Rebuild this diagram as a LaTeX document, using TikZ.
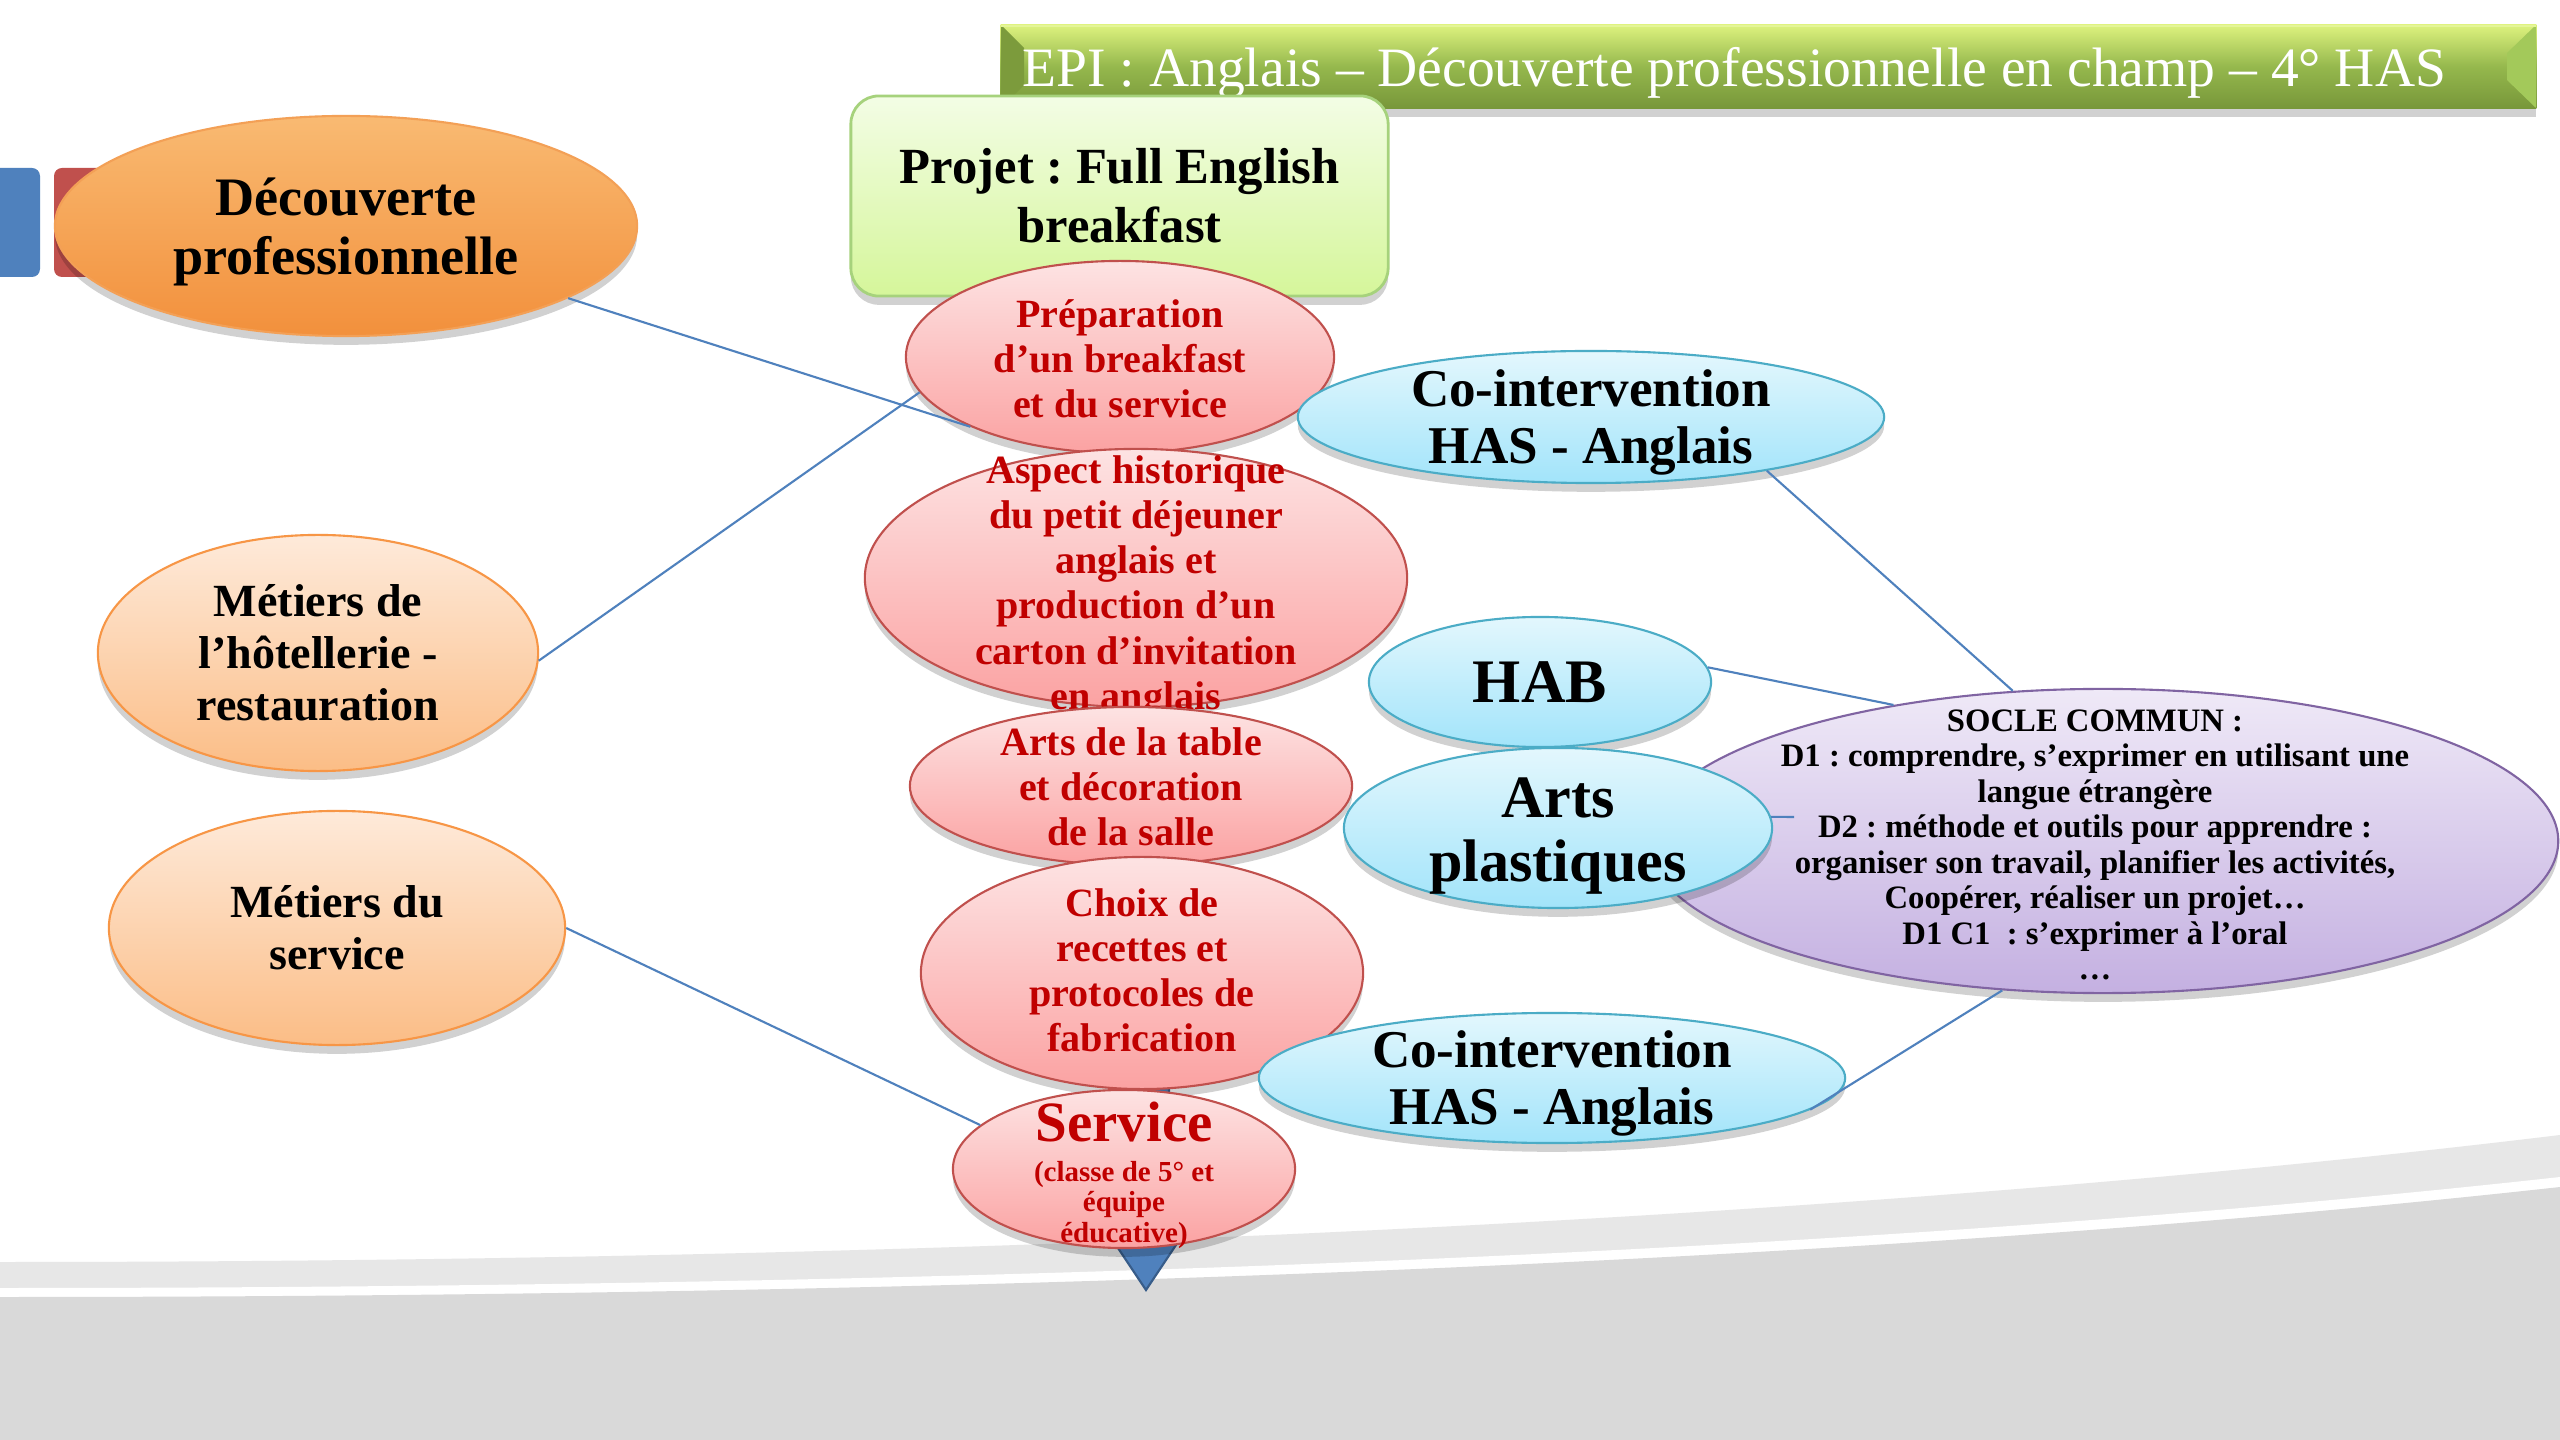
\documentclass[tikz,border=0pt]{standalone}
\usepackage{fontspec}
\setmainfont{Liberation Serif}
\usetikzlibrary{shapes.geometric,shadows}
\frenchspacing
\definecolor{lineblue}{HTML}{4F81BD}
\definecolor{arrowfill}{HTML}{4F81BD}
\definecolor{arrowdraw}{HTML}{385D8A}
\definecolor{bglight}{HTML}{E7E7E7}
\definecolor{bgdark}{HTML}{D9D9D9}
\definecolor{orTop}{HTML}{F9BA72}
\definecolor{orBot}{HTML}{F2903C}
\definecolor{orDraw}{HTML}{F3A056}
\definecolor{loTop}{HTML}{FEEADA}
\definecolor{loBot}{HTML}{FBBD86}
\definecolor{loDraw}{HTML}{F79646}
\definecolor{grTop}{HTML}{F3FDE5}
\definecolor{grBot}{HTML}{D5F69A}
\definecolor{grDraw}{HTML}{A6D27C}
\definecolor{rdTop}{HTML}{FDE3E3}
\definecolor{rdBot}{HTML}{FBA2A2}
\definecolor{rdDraw}{HTML}{C0504D}
\definecolor{rdText}{HTML}{C00000}
\definecolor{blTop}{HTML}{E3F7FD}
\definecolor{blBot}{HTML}{A2E4FA}
\definecolor{blDraw}{HTML}{4BACC6}
\definecolor{puTop}{HTML}{EFE9F7}
\definecolor{puBot}{HTML}{C4B0E1}
\definecolor{puDraw}{HTML}{8064A2}
\definecolor{bnTop}{HTML}{DDF27E}
\definecolor{bnMid}{HTML}{95B84D}
\definecolor{bnBot}{HTML}{78973A}
\definecolor{bnLeft}{HTML}{7C9B3C}
\definecolor{bnRight}{HTML}{A3C95A}
\definecolor{sqBlue}{HTML}{4F81BD}
\definecolor{sqRed}{HTML}{C0504D}
\begin{document}
\begin{tikzpicture}[x=0.01cm,y=-0.01cm,
  shad/.style={drop shadow={shadow xshift=0pt,shadow yshift=-2.5pt,opacity=0.18,fill=black}},
  ell/.style 2 args={ellipse,inner sep=0pt,minimum width=#1,minimum height=#2,line width=0.6pt,shad},
  orangeell/.style={top color=orTop,bottom color=orBot,draw=orDraw},
  lorangeell/.style={top color=loTop,bottom color=loBot,draw=loDraw},
  redell/.style={top color=rdTop,bottom color=rdBot,draw=rdDraw},
  blueell/.style={top color=blTop,bottom color=blBot,draw=blDraw},
  purpleell/.style={top color=puTop,bottom color=puBot,draw=puDraw},
  txt/.style={align=center,inner sep=0pt,text=black},
  redtxt/.style={align=center,inner sep=0pt,text=rdText,font=\fontsize{11.4}{12.8}\selectfont\bfseries},
  conn/.style={draw=lineblue,line width=0.6pt}]
\useasboundingbox (0,0) rectangle (2560,1440);
\fill[white] (0,0) rectangle (2560,1440);
% background bands
\fill[bglight] (0,1262) .. controls (1000,1262) and (1900,1215) .. (2560,1135) -- (2560,1440) -- (0,1440) -- cycle;
\fill[white] (0,1288) .. controls (1000,1288) and (1900,1250) .. (2560,1177) -- (2560,1440) -- (0,1440) -- cycle;
\fill[bgdark] (0,1297) .. controls (1000,1297) and (1900,1260) .. (2560,1187) -- (2560,1440) -- (0,1440) -- cycle;
% left squares
\fill[sqBlue,rounded corners=0.08cm] (-20,168) rectangle (40,277);
\fill[sqRed,rounded corners=0.08cm] (54,168) rectangle (220,277);
% left ellipses
\node[ell={5.82cm}{2.20cm},orangeell] (dec) at (346,226) {};
\node[txt,font=\fontsize{15.4}{16.8}\selectfont\bfseries] (decT) at (346,232) {Découverte\\professionnelle};
\node[ell={4.40cm}{2.36cm},lorangeell] (met) at (318,653) {};
\node[txt,font=\fontsize{13.1}{14.8}\selectfont\bfseries] (metT) at (met) {Métiers de\\l’hôtellerie -\\restauration};
\node[ell={4.56cm}{2.34cm},lorangeell] (msvc) at (337,928) {};
\node[txt,font=\fontsize{13.1}{14.8}\selectfont\bfseries] (msvcT) at (msvc) {Métiers du\\service};
% title banner
\node[rectangle,inner sep=0pt,minimum width=15.35cm,minimum height=0.83cm,shad,
  top color=bnTop,bottom color=bnBot,middle color=bnMid] (banner) at (1768.5,66.5) {};
\fill[bnLeft] (1001,25) -- (1024,48) -- (1024,85) -- (1001,108) -- cycle;
\fill[bnRight] (2536,25) -- (2507,53) -- (2507,80) -- (2536,108) -- cycle;
\draw[bnTop!80!white,line width=0.8pt] (1001,26) -- (2536,26);
\node[anchor=base west,inner sep=0pt,text=white,font=\fontsize{15.8}{17}\selectfont] (title) at (1022,87)
  {EPI : Anglais – Découverte professionnelle en champ – 4° HAS};
% project box
\node[rectangle,rounded corners=0.28cm,inner sep=0pt,minimum width=5.37cm,minimum height=2.00cm,
  top color=grTop,bottom color=grBot,draw=grDraw,line width=0.8pt,shad] (proj) at (1119.5,196) {};
\node[txt,font=\fontsize{14.4}{16.8}\selectfont\bfseries] (projT) at (proj) {Projet : Full English\\breakfast};
% vertical arrow behind the steps
\filldraw[fill=arrowfill,draw=arrowdraw,line width=0.6pt] (1121,330) -- (1169,330) -- (1169,1200) -- (1206,1200)
  -- (1146,1290) -- (1086,1200) -- (1121,1200) -- cycle;
% steps
\node[ell={4.28cm}{1.92cm},redell] (prep) at (1120,357) {};
\node[redtxt] (prepT) at (1120,359) {Préparation\\d’un breakfast\\et du service};
\node[ell={5.42cm}{2.58cm},redell] (asp) at (1136,578) {};
\node[redtxt] (aspT) at (1136,587) {Aspect historique\\du petit déjeuner\\anglais et\\production d’un\\carton d’invitation\\en anglais};
\node[ell={4.42cm}{1.58cm},redell] (arts) at (1131,786) {};
\node[redtxt] (artsT) at (1131,787) {Arts de la table\\et décoration\\de la salle};
\node[ell={4.42cm}{2.32cm},redell] (choix) at (1142,973) {};
\node[redtxt] (choixT) at (1142,970) {Choix de\\recettes et\\protocoles de\\fabrication};
\node[ell={3.42cm}{1.58cm},redell] (serv) at (1124,1169) {};
\node[inner sep=0pt,text=rdText,font=\fontsize{16.2}{17}\selectfont\bfseries] (servT) at (1124,1122) {Service};
\node[align=center,inner sep=0pt,text=rdText,font=\fontsize{8.25}{8.8}\selectfont\bfseries] (servS) at (1124,1205)
  {(classe de 5° et\\équipe\\éducative)};
% co-interventions
\node[ell={5.86cm}{1.32cm},blueell] (coTop) at (1591,417) {};
\node[txt,font=\fontsize{15.1}{16.2}\selectfont\bfseries] (coTopT) at (1591,422) {Co-intervention\\HAS - Anglais};
\node[ell={5.86cm}{1.30cm},blueell] (coBot) at (1552,1078) {};
\node[txt,font=\fontsize{15.1}{16.2}\selectfont\bfseries] (coBotT) at (1552,1083) {Co-intervention\\HAS - Anglais};
% socle commun
\node[ell={9.10cm}{3.04cm},purpleell] (socle) at (2103,841) {};
\node[txt,font=\fontsize{9.3}{10.1}\selectfont\bfseries] (socleT) at (2095,845)
  {SOCLE COMMUN :\\D1 : comprendre, s’exprimer en utilisant une\\langue étrangère\\D2 : méthode et outils pour apprendre :\\organiser son travail, planifier les activités,\\Coopérer, réaliser un projet…\\D1 C1~~: s’exprimer à l’oral\\…};
\node[ell={3.42cm}{1.30cm},blueell] (hab) at (1540,682) {};
\node[txt,font=\fontsize{17.6}{19}\selectfont\bfseries] (habT) at (hab) {HAB};
\node[ell={4.28cm}{1.60cm},blueell] (artsp) at (1558,828) {};
\node[txt,font=\fontsize{17.1}{18.2}\selectfont\bfseries] (artspT) at (1558,836) {Arts\\plastiques};
% connectors
\coordinate (stubEnd) at (1794,817);
\draw[conn] (dec.-18) -- (prep.205);
\draw[conn] (met.-2) -- (prep.190);
\draw[conn] (msvc.east) -- (serv.163);
\draw[conn] (coTop.-17) -- (socle.121);
\draw[conn] (hab.5) -- (socle.147);
\draw[conn] (coBot.-7) -- (socle.-124);
\draw[conn] (artsp.3) -- (stubEnd);
\end{tikzpicture}
\end{document}
